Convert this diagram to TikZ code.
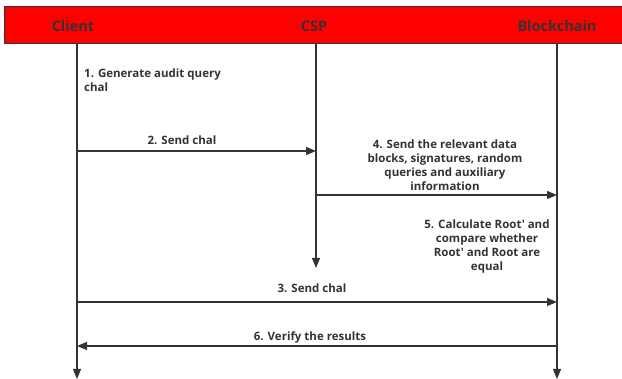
\documentclass[tikz,border=0pt]{standalone}
\usepackage{fontspec}
\setmainfont{Open Sans}[Ligatures=TeXOff]
\usetikzlibrary{arrows.meta}
\definecolor{ink}{HTML}{333333}
\definecolor{barred}{HTML}{FF0000}
\tikzset{
  msg/.style={draw=ink, line width=1.2pt, -{Triangle[length=10pt,width=8pt]}},
  lbl/.style={text=ink, font=\bfseries\fontsize{11.5}{14}\selectfont, inner sep=0pt, align=center},
  head/.style={text=ink, font=\bfseries\fontsize{14.5}{16}\selectfont, inner sep=0pt},
}
\begin{document}
\begin{tikzpicture}[x=1pt,y=-1pt]
\useasboundingbox (0,0) rectangle (622,379);
% header bar
\draw[draw=ink, fill=barred, line width=1pt] (4,7) rectangle (626,44);
\node[head] (client) at (73,26) {Client};
\node[head] (csp) at (314,26) {CSP};
\node[head] (chain) at (557,26) {Blockchain};
% lifelines
\coordinate (c0) at (77,44);
\coordinate (c1) at (77,379);
\coordinate (s0) at (316,44);
\coordinate (s1) at (316,268);
\coordinate (b0) at (557,44);
\coordinate (b1) at (557,379);
\draw[msg] (c0) -- (c1);
\draw[msg] (s0) -- (s1);
\draw[msg] (b0) -- (b1);
% messages
\coordinate (m2a) at (77,151); \coordinate (m2b) at (316,151);
\coordinate (m4a) at (316,195); \coordinate (m4b) at (557,195);
\coordinate (m3a) at (77,302); \coordinate (m3b) at (557,302);
\coordinate (m6a) at (557,346); \coordinate (m6b) at (77,346);
\draw[msg] (m2a) -- (m2b);
\draw[msg] (m4a) -- (m4b);
\draw[msg] (m3a) -- (m3b);
\draw[msg] (m6a) -- (m6b);
% labels
\node[lbl, align=left, anchor=north west] (t1) at (84,69) {1. Generate audit query\\chal};
\node[lbl] (t2) at (182,140) {2. Send chal};
\node[lbl] (t4) at (445,165) {4. Send the relevant data\\blocks, signatures, random\\queries and auxiliary\\information};
\node[lbl] (t5) at (487,247) {5. Calculate Root' and\\compare whether\\Root' and Root are\\equal};
\node[lbl] (t3) at (312,288) {3. Send chal};
\node[lbl] (t6) at (310,337) {6. Verify the results};
\end{tikzpicture}
\end{document}
